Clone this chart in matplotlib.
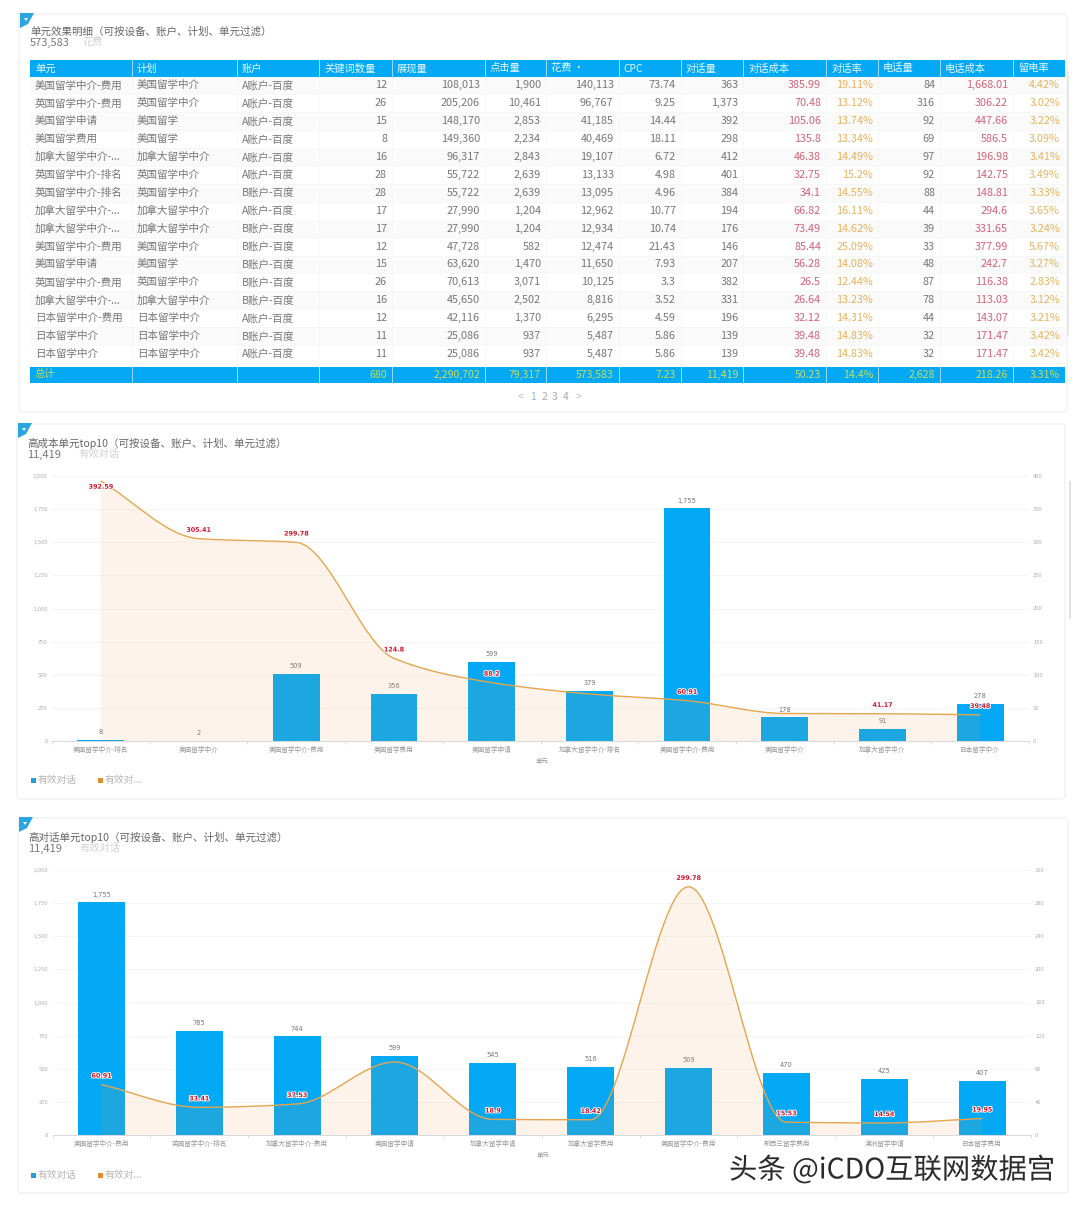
import matplotlib
matplotlib.use("Agg")
import numpy as np
from matplotlib import pyplot as plt
from matplotlib import patheffects as pe
from matplotlib.patches import PathPatch, Polygon, Rectangle, FancyBboxPatch
from matplotlib.path import Path

plt.rcParams["font.family"] = ["Noto Sans CJK SC", "DejaVu Sans"]

# -------- table data --------
headers = ["单元", "计划", "账户", "关键词数量", "展现量", "点击量", "花费 ·", "CPC", "对话量",
           "对话成本", "对话率", "电话量", "电话成本", "留电率"]
units = ["美国留学中介-费用", "英国留学中介-费用", "美国留学申请", "美国留学费用", "加拿大留学中介-...",
         "英国留学中介-排名", "英国留学中介-排名", "加拿大留学中介-...", "加拿大留学中介-...",
         "美国留学中介-费用", "美国留学申请", "英国留学中介-费用", "加拿大留学中介-...",
         "日本留学中介-费用", "日本留学中介", "日本留学中介"]
plans = ["美国留学中介", "英国留学中介", "美国留学", "美国留学", "加拿大留学中介", "英国留学中介",
         "英国留学中介", "加拿大留学中介", "加拿大留学中介", "美国留学中介", "美国留学", "英国留学中介",
         "加拿大留学中介", "日本留学中介", "日本留学中介", "日本留学中介"]
accounts = ["A账户-百度", "A账户-百度", "A账户-百度", "A账户-百度", "A账户-百度", "A账户-百度",
            "B账户-百度", "A账户-百度", "B账户-百度", "B账户-百度", "B账户-百度", "B账户-百度",
            "B账户-百度", "A账户-百度", "B账户-百度", "A账户-百度"]
keywords = ["12", "26", "15", "8", "16", "28", "28", "17", "17", "12", "15", "26", "16", "12", "11", "11"]
impressions = ["108,013", "205,206", "148,170", "149,360", "96,317", "55,722", "55,722", "27,990",
               "27,990", "47,728", "63,620", "70,613", "45,650", "42,116", "25,086", "25,086"]
clicks = ["1,900", "10,461", "2,853", "2,234", "2,843", "2,639", "2,639", "1,204", "1,204", "582",
          "1,470", "3,071", "2,502", "1,370", "937", "937"]
spend = ["140,113", "96,767", "41,185", "40,469", "19,107", "13,133", "13,095", "12,962", "12,934",
         "12,474", "11,650", "10,125", "8,816", "6,295", "5,487", "5,487"]
cpc = ["73.74", "9.25", "14.44", "18.11", "6.72", "4.98", "4.96", "10.77", "10.74", "21.43", "7.93",
       "3.3", "3.52", "4.59", "5.86", "5.86"]
chats = ["363", "1,373", "392", "298", "412", "401", "384", "194", "176", "146", "207", "382", "331",
         "196", "139", "139"]
chat_cost = ["385.99", "70.48", "105.06", "135.8", "46.38", "32.75", "34.1", "66.82", "73.49", "85.44",
             "56.28", "26.5", "26.64", "32.12", "39.48", "39.48"]
chat_rate = ["19.11%", "13.12%", "13.74%", "13.34%", "14.49%", "15.2%", "14.55%", "16.11%", "14.62%",
             "25.09%", "14.08%", "12.44%", "13.23%", "14.31%", "14.83%", "14.83%"]
calls = ["84", "316", "92", "69", "97", "92", "88", "44", "39", "33", "48", "87", "78", "44", "32", "32"]
call_cost = ["1,668.01", "306.22", "447.66", "586.5", "196.98", "142.75", "148.81", "294.6", "331.65",
             "377.99", "242.7", "116.38", "113.03", "143.07", "171.47", "171.47"]
call_rate = ["4.42%", "3.02%", "3.22%", "3.09%", "3.41%", "3.49%", "3.33%", "3.65%", "3.24%", "5.67%",
             "3.27%", "2.83%", "3.12%", "3.21%", "3.42%", "3.42%"]
totals = ["总计", "", "", "680", "2,290,702", "79,317", "573,583", "7.23", "11,419", "50.23", "14.4%",
          "2,628", "218.26", "3.31%"]

# -------- chart data --------
cost_units = ["美国留学中介-排名", "美国留学中介", "美国留学中介-费用", "美国留学费用", "美国留学申请",
              "加拿大留学中介-排名", "美国留学中介-费用", "美国留学中介", "加拿大留学中介", "日本留学中介"]
cost_chats = [8, 2, 509, 356, 599, 379, 1755, 178, 91, 278]
cost_values = [392.59, 305.41, 299.78, 124.8, 88.2, 71, 60.91, 41.5, 41.17, 39.48]
cost_labels = ["392.59", "305.41", "299.78", "124.8", "88.2", "", "60.91", "", "41.17", "39.48"]

chat_units = ["美国留学中介-费用", "英国留学中介-排名", "加拿大留学中介-费用", "美国留学申请", "加拿大留学申请",
              "加拿大留学费用", "美国留学中介-费用", "新西兰留学费用", "澳洲留学申请", "日本留学费用"]
chat_chats = [1755, 785, 744, 599, 545, 516, 509, 470, 425, 407]
chat_values = [60.91, 33.41, 37.53, 88.2, 18.9, 18.42, 299.78, 15.53, 14.54, 19.95]
chat_labels = ["60.91", "33.41", "37.53", "", "18.9", "18.42", "299.78", "15.53", "14.54", "19.95"]

BLUE = "#03a9f4"
ORANGE = "#e3a64e"
W, H = 1080, 1207
col_edges = [30, 132, 236.5, 319, 392, 485, 546, 618.6, 680.7, 743.4, 826, 878, 940, 1013, 1065]

fig = plt.figure(figsize=(W / 100, H / 100), dpi=100, facecolor="white")
bg = fig.add_axes([0, 0, 1, 1])
bg.set_xlim(0, W)
bg.set_ylim(H, 0)
bg.axis("off")


def draw_panel(x0, y0, x1, y1):
    bg.add_patch(FancyBboxPatch((x0, y0), x1 - x0, y1 - y0, boxstyle="round,pad=0,rounding_size=3",
                                fc="white", ec="#f3f4f5", lw=1.2))
    bg.add_patch(Polygon([(x0 + 1, y0 - 1), (x0 + 15, y0 - 1), (x0 + 9, y0 + 10), (x0 + 1, y0 + 14)],
                         fc="#2aa5e0", ec="none"))
    bg.add_patch(Polygon([(x0 + 5, y0 + 4), (x0 + 9, y0 + 4), (x0 + 7, y0 + 7)], fc="white", ec="none"))


def draw_heading(x, y, title, value, name):
    bg.text(x, y, title, fontsize=7.6, color="#666666", va="center")
    bg.text(x, y + 12, value, fontsize=8, color="#777777", va="center")
    bg.text(x + 52, y + 11, name, fontsize=7.4, color="#d2d2d2", va="center")


def smooth_path(x, y):
    # monotone curve through the values, same look as the smooth line of the original
    x = np.asarray(x, dtype=float)
    y = np.asarray(y, dtype=float)
    d = np.diff(y)
    m = np.zeros(len(y))
    m[0], m[-1] = d[0], d[-1]
    for i in range(1, len(y) - 1):
        if d[i - 1] * d[i] > 0:
            m[i] = 2 * d[i - 1] * d[i] / (d[i - 1] + d[i])
    verts = [(x[0], y[0])]
    codes = [Path.MOVETO]
    for i in range(len(y) - 1):
        verts += [(x[i] + 1 / 3, y[i] + m[i] / 3), (x[i + 1] - 1 / 3, y[i + 1] - m[i + 1] / 3),
                  (x[i + 1], y[i + 1])]
        codes += [Path.CURVE4] * 3
    return verts, codes


def draw_combo(px0, px1, py_top, py_zero, names, bars, line, line_labels, right_max, right_step):
    rect = [px0 / W, 1 - py_zero / H, (px1 - px0) / W, (py_zero - py_top) / H]
    ax = fig.add_axes(rect, facecolor="none")
    x = np.arange(len(names))
    container = ax.bar(x, bars, width=0.48, color=BLUE, zorder=2)
    ax.bar_label(container, labels=[f"{v:,}" for v in bars], padding=3.5, fontsize=4.8,
                 color="#777777", family="DejaVu Sans")
    ax.set_xlim(-0.5, len(names) - 0.5)
    ax.set_ylim(0, 2000)
    ax.set_yticks(np.arange(0, 2001, 250))
    ax.yaxis.set_major_formatter(lambda v, pos: f"{int(v):,}")
    ax.grid(axis="y", color="#f4f5f6", lw=0.8, zorder=0)
    ax.set_axisbelow(True)
    ax.set_xticks(x, names)
    ax.set_xticks(np.arange(len(names) + 1) - 0.5, minor=True)
    ax.tick_params(axis="x", which="major", length=0, labelsize=4.8, labelcolor="#999999", pad=3.5)
    ax.tick_params(axis="x", which="minor", length=2.5, width=0.6, color="#d5d9dd")
    ax.tick_params(axis="y", length=0, labelsize=4.2, labelcolor="#b0b0b0", pad=3)
    for side in ["top", "left", "right"]:
        ax.spines[side].set_visible(False)
    ax.spines["bottom"].set_color("#d5d9dd")
    ax.spines["bottom"].set_linewidth(0.7)

    ax2 = ax.twinx()
    ax2.set_ylim(0, right_max)
    ax2.set_yticks(np.arange(0, right_max + 1, right_step))
    ax2.tick_params(axis="y", length=0, labelsize=4.2, labelcolor="#b0b0b0", pad=3)
    for side in ax2.spines:
        ax2.spines[side].set_visible(False)

    verts, codes = smooth_path(x, line)
    area = verts + [(x[-1], 0), (x[0], 0), (x[0], 0)]
    area_codes = codes + [Path.LINETO, Path.LINETO, Path.CLOSEPOLY]
    ax2.add_patch(PathPatch(Path(area, area_codes), fc="#f79a40", ec="none", alpha=0.11))
    ax2.add_patch(PathPatch(Path(verts, codes), fc="none", ec=ORANGE, lw=1.0))
    for xi, yi, label in zip(x, line, line_labels):
        if label:
            off = -4.5 if yi > 0.95 * right_max else 6
            ax2.annotate(label, (xi, yi), xytext=(0, off), textcoords="offset points", ha="center",
                         va="center", fontsize=4.6, color="#d0142c", fontweight="bold",
                         family="DejaVu Sans",
                         path_effects=[pe.withStroke(linewidth=1.3, foreground="white")])
    bg.text((px0 + px1) / 2 + 1, py_zero + 20, "单元", fontsize=4.6, color="#999999", ha="center", va="center")


def draw_legend(y):
    bg.add_patch(Rectangle((31, y - 2.5), 5, 5, fc="#1f9fdc", ec="none"))
    bg.text(38, y, "有效对话", fontsize=7, color="#b5b5b5", va="center")
    bg.add_patch(Rectangle((98, y - 2.5), 5, 5, fc="#e58a2c", ec="none"))
    bg.text(105, y, "有效对...", fontsize=7, color="#b5b5b5", va="center")


# -------- table panel --------
draw_panel(19, 14, 1067, 412)
draw_heading(30, 31, "单元效果明细（可按设备、账户、计划、单元过滤）", "573,583", "花费")

columns = [units, plans, accounts, keywords, impressions, clicks, spend, cpc, chats, chat_cost,
           chat_rate, calls, call_cost, call_rate]
text_colors = ["#777777"] * 9 + ["#d2637a", "#e8b25a", "#777777", "#d2637a", "#e5b563"]
row_h = 17.9
top = 76.5

bg.add_patch(Rectangle((30, 60), 1035, 17, fc=BLUE, ec="none"))
bg.add_patch(Rectangle((30, 367), 1035, 15.5, fc=BLUE, ec="none"))
for r in range(len(units)):
    y = top + r * row_h
    if r % 2 == 0:
        bg.add_patch(Rectangle((30, y), 1035, row_h, fc="#fafafa", ec="none"))
    bg.plot([30, 1065], [y + row_h, y + row_h], color="#f6f6f6", lw=0.5)
for i, edge in enumerate(col_edges[1:-1]):
    bg.plot([edge, edge], [77, 367], color="#f5f5f5", lw=0.5)
    bg.plot([edge, edge], [60, 77], color="#9fdcf8", lw=0.7)
    bg.plot([edge, edge], [367, 382.5], color="#9fdcf8", lw=0.7)

for c, col in enumerate(columns):
    left, right = col_edges[c], col_edges[c + 1]
    bg.text(left + 5, 68.5, headers[c], fontsize=7.4, color="#e8f7fe", va="center")
    for r, val in enumerate(col):
        y = top + (r + 0.5) * row_h
        if c < 3:
            bg.text(left + 5, y, val, fontsize=7.6, color=text_colors[c], va="center")
        else:
            bg.text(right - 5, y, val, fontsize=7.8, color=text_colors[c], va="center", ha="right")
    if totals[c]:
        if c == 0:
            bg.text(left + 5, 374.5, totals[c], fontsize=7.4, color="#c6dd5e", va="center")
        else:
            bg.text(right - 5, 374.5, totals[c], fontsize=7.6, color="#c6dd5e", va="center", ha="right")

bg.text(520, 396.5, "<", fontsize=7.5, color="#bbbbbb", ha="center", va="center")
for n, px in zip(["1", "2", "3", "4"], [533, 544, 555, 566]):
    bg.text(px, 396.5, n, fontsize=7.5, color="#8fb8d0" if n == "1" else "#aaaaaa", ha="center", va="center")
bg.text(579, 396.5, ">", fontsize=7.5, color="#bbbbbb", ha="center", va="center")
bg.plot([1068, 1068], [72, 335], color="#e4e4e4", lw=1.2)

# -------- cost panel --------
draw_panel(17, 424, 1065, 799)
draw_heading(27, 443, "高成本单元top10（可按设备、账户、计划、单元过滤）", "11,419", "有效对话")
draw_combo(52, 1029, 476, 741, cost_units, cost_chats, cost_values, cost_labels, 400, 50)
draw_legend(780)
bg.plot([1069.5, 1069.5], [482, 618], color="#e0e0e0", lw=1.4)

# -------- chat panel --------
draw_panel(18, 818, 1068, 1193)
draw_heading(28, 837, "高对话单元top10（可按设备、账户、计划、单元过滤）", "11,419", "有效对话")
draw_combo(52.5, 1031, 870, 1135, chat_units, chat_chats, chat_values, chat_labels, 320, 40)
draw_legend(1175)

# -------- watermark --------
fig.text(729 / W, 1 - 1170.5 / H, "头条 @iCDO互联网数据宫", fontsize=20.4, color="#2b2b2b", va="center",
         zorder=20, path_effects=[pe.withStroke(linewidth=1.2, foreground="white")])

fig.savefig("out.png", dpi=100)
